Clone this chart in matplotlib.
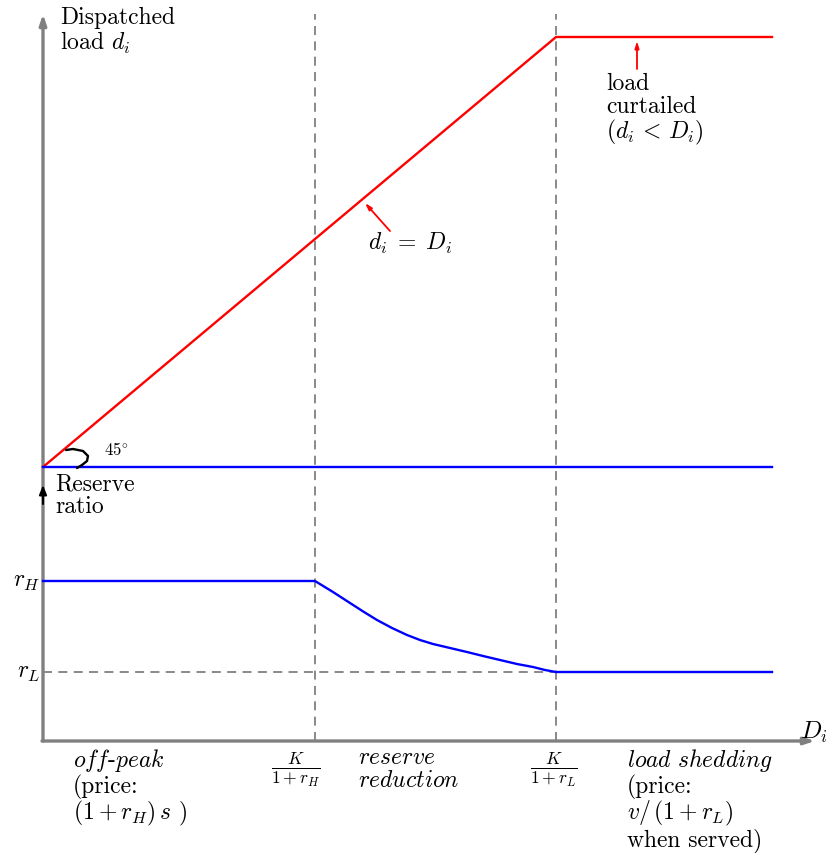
import matplotlib
matplotlib.use("Agg")
import matplotlib.pyplot as plt

plt.rcParams['font.family'] = ['cmr10', 'DejaVu Serif']
plt.rcParams['mathtext.fontset'] = 'cm'
plt.rcParams['axes.unicode_minus'] = False

# ---- data (horizontal: demand D_i, vertical: load / reserve ratio), picture units
D_rH = 272          # K/(1+r_H)
D_rL = 513          # K/(1+r_L)
D_max = 729
base_upper = 274    # level where the dispatched-load panel starts
r_H = 160
r_L = 69

red_x = [0, D_rL, D_max]
red_y = [base_upper, base_upper + 430, base_upper + 430]

blue_upper_x = [0, D_max]
blue_upper_y = [base_upper, base_upper]

reserve_x = [0, 272, 290, 307, 321, 334, 349, 364, 377, 390, 407, 424, 440, 457, 474, 490, 502, 513, 729]
reserve_y = [160, 160, 149, 138, 129, 121, 113, 106, 101, 97, 93, 89, 85, 81, 77, 74, 71, 69, 69]

arc_x = [23, 30, 40, 45, 44, 39, 34]
arc_y = [291, 292, 290, 285, 280, 276, 273]

tick_labels = [r'$\frac{K}{1+r_H}$', r'$\frac{K}{1+r_L}$']

GRAY = '#808080'
FS = 17
LS = 1.02

fig = plt.figure(figsize=(8.29, 8.54), dpi=100)
ax = fig.add_axes([0, 0, 1, 1])
ax.set_xlim(-43, 786)
ax.set_ylim(-112, 742)
ax.axis('off')

# dashed guides
for xv in (D_rH, D_rL):
    ax.plot([xv, xv], [0, 727], color=GRAY, lw=1.3, ls=(0, (5, 3.5)), zorder=1)
ax.plot([0, D_rL], [r_L, r_L], color=GRAY, lw=1.3, ls=(0, (5, 3.5)), zorder=1)

# axes with arrows
ax.annotate('', xy=(0, 727), xytext=(0, 0),
            arrowprops=dict(arrowstyle='-|>,head_length=0.6,head_width=0.2',
                            color=GRAY, lw=2.4, shrinkA=0, shrinkB=0), zorder=3)
ax.annotate('', xy=(772, 0), xytext=(-1, 0),
            arrowprops=dict(arrowstyle='-|>,head_length=0.6,head_width=0.2',
                            color=GRAY, lw=2.4, shrinkA=0, shrinkB=0), zorder=3)

# curves
ax.plot(red_x, red_y, color='#ff0000', lw=1.7, zorder=4, solid_joinstyle='miter')
ax.plot(blue_upper_x, blue_upper_y, color='#0000ff', lw=1.7, zorder=4)
ax.plot(reserve_x, reserve_y, color='#0000ff', lw=1.7, zorder=4)
ax.plot(arc_x, arc_y, color='black', lw=1.7, zorder=5, solid_capstyle='round')

# annotations arrows
ax.annotate('', xy=(594, 700), xytext=(594, 672),
            arrowprops=dict(arrowstyle='-|>,head_length=0.4,head_width=0.12',
                            color='#ff0000', lw=1.3, shrinkA=0, shrinkB=0))
ax.annotate('', xy=(322, 538), xytext=(347, 510),
            arrowprops=dict(arrowstyle='-|>,head_length=0.4,head_width=0.12',
                            color='#ff0000', lw=1.3, shrinkA=0, shrinkB=0))
ax.annotate('', xy=(0, 256), xytext=(0, 237),
            arrowprops=dict(arrowstyle='-|>,head_length=0.55,head_width=0.22',
                            color='black', lw=1.5, shrinkA=0, shrinkB=0), zorder=6)

# texts
ax.text(17, 735, 'Dispatched\nload $d_i$', fontsize=FS, ha='left', va='top', linespacing=LS)
ax.text(563, 669, 'load\ncurtailed\n($d_i\\,<\\,D_i$)', fontsize=FS, ha='left', va='top', linespacing=LS)
ax.text(325, 492, '$d_i\\;=\\;D_i$', fontsize=FS, ha='left', va='baseline')
ax.text(61, 287, r'$45^{\circ}$', fontsize=12, ha='left', va='baseline')
ax.text(12, 269, 'Reserve\nratio', fontsize=FS, ha='left', va='top', linespacing=LS)
ax.text(-3, r_H, '$r_H$', fontsize=FS, ha='right', va='center')
ax.text(-3, r_L, '$r_L$', fontsize=FS, ha='right', va='center')
ax.text(757, 10, '$D_i$', fontsize=FS + 1, ha='left', va='center')

ax.text(253, -28, tick_labels[0], fontsize=FS + 1, ha='center', va='center')
ax.text(511, -28, tick_labels[1], fontsize=FS + 1, ha='center', va='center')

ax.text(30, -5, '$\\mathit{off}$-$\\mathit{peak}$\n(price:\n$(1+r_H)\\,s$ )',
        fontsize=FS, ha='left', va='top', linespacing=LS)
ax.text(315, -5, '$\\mathit{reserve}$\n$\\mathit{reduction}$',
        fontsize=FS, ha='left', va='top', linespacing=LS)
ax.text(584, -5, '$\\mathit{load\\ shedding}$\n(price:\n$v/\\,(1+r_L)$\nwhen served)',
        fontsize=FS, ha='left', va='top', linespacing=LS)

fig.savefig('out.png', dpi=100)
